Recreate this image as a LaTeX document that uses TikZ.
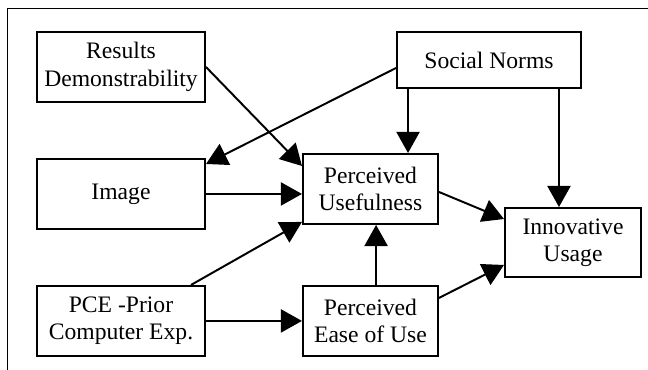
\documentclass[tikz,border=0pt]{standalone}
\usepackage{fontspec}
\setmainfont{Liberation Serif}
\usetikzlibrary{positioning,arrows.meta}

\begin{document}
\begin{tikzpicture}[auto, node distance=1.375cm,
    >={Triangle[length=0.53cm,width=0.58cm]},
    line width=1.4pt,
    block/.style={draw, align=center, inner sep=2pt,
        font=\fontsize{16.8}{19.5}\selectfont}]
    \useasboundingbox (0,0) rectangle (16.2,-9.25);
    % frame
    \draw[line width=0.7pt] (16.2,-0.2) -- (0.19,-0.2) -- (0.19,-9.25);
    % left column
    \node [block,
        minimum width=4.2cm,
        minimum height=1.75cm
    ]  (Results) at (3.025,-1.675) {Results\\Demonstrability};
    \node [block,
        minimum width=4.2cm,
        minimum height=1.75cm,
        below=of Results
    ]  (Image) {Image};
    \node [block,
        minimum width=4.2cm,
        minimum height=1.75cm,
        below=of Image
    ]  (PriorExp) {PCE -Prior\\Computer Exp.};
    % middle column
    \node [block,
        minimum width=3.375cm,
        minimum height=1.75cm,
        right=2.4cm of PriorExp
    ]  (EaseOfUse) {Perceived\\Ease of Use};
    \node [block,
        minimum width=3.375cm,
        minimum height=1.75cm,
        above=1.5cm of EaseOfUse
    ]  (Usefulness) {Perceived\\Usefulness};
    % right column
    \node [block,
        minimum width=4.6cm,
        minimum height=1.4cm
    ]  (SocialNorms) at (12.225,-1.5) {Social Norms};
    \node [block,
        minimum width=3.4cm,
        minimum height=1.725cm
    ]  (Usage) at (14.325,-6.0625) {Innovative\\Usage};

    \draw[->] (Results.east) -- ([yshift=-0.325cm]Usefulness.north west);
    \draw[->] ([yshift=-0.2cm]SocialNorms.west) -- ([yshift=-0.15cm]Image.north east);
    \draw[->] ([xshift=0.3cm]SocialNorms.south west)
        -- ([xshift=0.3cm]SocialNorms.south west |- Usefulness.north);
    \draw[->] ([xshift=-0.575cm]SocialNorms.south east)
        -- ([xshift=-0.575cm]SocialNorms.south east |- Usage.north);
    \draw[->] (Image.east) -- (Image.east -| Usefulness.west);
    \draw[->] ([xshift=-0.375cm]PriorExp.north east) -- ([yshift=0.075cm]Usefulness.south west);
    \draw[->] (PriorExp.east) -- (EaseOfUse.west);
    \draw[->] ([xshift=0.14cm]EaseOfUse.north) -- ([xshift=0.14cm]Usefulness.south);
    \draw[->] ([yshift=-0.075cm]Usefulness.east) -- ([yshift=-0.3cm]Usage.north west);
    \draw[->] ([yshift=-0.325cm]EaseOfUse.north east) -- ([yshift=0.325cm]Usage.south west);

\end{tikzpicture}
\end{document}
